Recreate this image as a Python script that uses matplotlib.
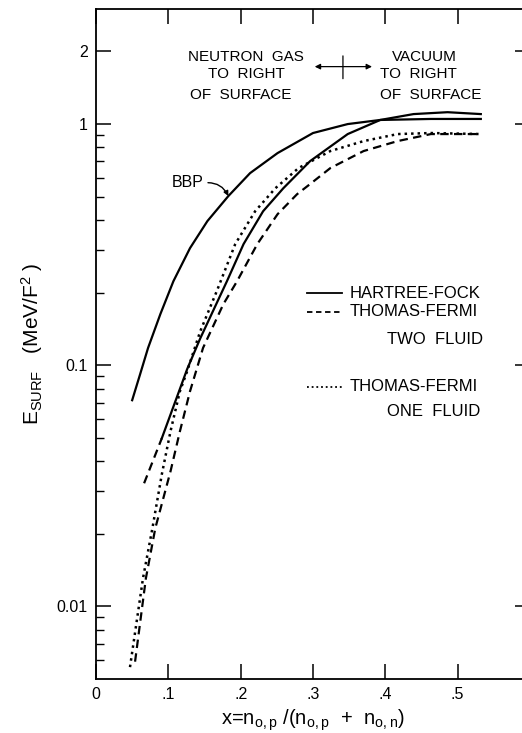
import matplotlib
matplotlib.use("Agg")
import matplotlib.pyplot as plt
from matplotlib.lines import Line2D

plt.rcParams['font.family'] = ['Liberation Sans', 'DejaVu Sans']
plt.rcParams['mathtext.fontset'] = 'custom'
plt.rcParams['mathtext.rm'] = 'Liberation Sans'
plt.rcParams['mathtext.default'] = 'regular'

# Hartree-Fock (solid), with short dashed extension at low x
hf_x = [0.091, 0.126, 0.144, 0.181, 0.204, 0.231, 0.259, 0.296, 0.348, 0.393, 0.439, 0.486, 0.532]
hf_y = [0.0498, 0.0963, 0.129, 0.223, 0.318, 0.435, 0.542, 0.702, 0.909, 1.04, 1.10, 1.12, 1.10]
hf_ext_x = [0.0665, 0.091]
hf_ext_y = [0.0324, 0.0498]

# BBP (solid)
bbp_x = [0.050, 0.061, 0.072, 0.089, 0.107, 0.130, 0.154, 0.183, 0.213, 0.251, 0.300, 0.348, 0.393, 0.463, 0.532]
bbp_y = [0.0716, 0.0918, 0.118, 0.163, 0.223, 0.306, 0.396, 0.503, 0.626, 0.758, 0.918, 1.00, 1.04, 1.05, 1.05]

# Thomas-Fermi two fluid (dashed)
tf2_x = [0.054, 0.069, 0.082, 0.103, 0.116, 0.130, 0.148, 0.176, 0.195, 0.223, 0.251, 0.278, 0.296, 0.324, 0.370, 0.417, 0.463, 0.532]
tf2_y = [0.0059, 0.0131, 0.0211, 0.0363, 0.0532, 0.078, 0.118, 0.179, 0.223, 0.318, 0.423, 0.512, 0.564, 0.657, 0.773, 0.85, 0.909, 0.909]

# Thomas-Fermi one fluid (dotted)
tf1_x = [0.047, 0.065, 0.078, 0.091, 0.103, 0.116, 0.126, 0.144, 0.167, 0.1925, 0.220, 0.248, 0.280, 0.324, 0.370, 0.417, 0.463, 0.532]
tf1_y = [0.0056, 0.0131, 0.0211, 0.0353, 0.0532, 0.078, 0.0944, 0.138, 0.203, 0.318, 0.435, 0.542, 0.657, 0.773, 0.85, 0.909, 0.918, 0.909]

x_ticks = [0, 0.1, 0.2, 0.3, 0.4, 0.5]
x_labels = ["0", ".1", ".2", ".3", ".4", ".5"]
y_ticks = [0.01, 0.1, 1, 2]
y_labels = ["0.01", "0.1", "1", "2"]
y_minor = [0.006, 0.007, 0.008, 0.009,
           0.02, 0.03, 0.04, 0.05, 0.06, 0.07, 0.08, 0.09,
           0.2, 0.3, 0.4, 0.5, 0.6, 0.7, 0.8, 0.9]

fig = plt.figure(figsize=(5.22, 7.33), dpi=100)
ax = fig.add_axes([96/522, 54/733, 434/522, 670/733])

lw = 1.6
ax.plot(bbp_x, bbp_y, color="black", lw=lw)
ax.plot(hf_x, hf_y, color="black", lw=lw)
ax.plot(hf_ext_x, hf_ext_y, color="black", lw=lw, dashes=(3.8, 2.4))
ax.plot(tf2_x, tf2_y, color="black", lw=lw, dashes=(3.8, 2.4))
ax.plot(tf1_x, tf1_y, color="black", lw=1.8, dashes=(1, 1.6))

ax.set_yscale("log")
ax.set_xlim(0, 0.6)
ax.set_ylim(0.005, 3)

ax.set_xticks(x_ticks)
ax.set_xticklabels(x_labels)
ax.set_yticks(y_ticks)
ax.set_yticklabels(y_labels)
ax.set_yticks(y_minor, minor=True)
ax.yaxis.set_minor_formatter(matplotlib.ticker.NullFormatter())

ax.tick_params(which="major", direction="in", length=11, width=1.1,
               top=True, right=True, labelsize=11.5, pad=6)
ax.tick_params(axis="y", which="minor", direction="in", length=6, width=1.0,
               left=True, right=False)
for s in ax.spines.values():
    s.set_linewidth(1.3)
ax.spines["right"].set_visible(False)

ax.set_xlabel(r"x=n$_{o,p}$ /(n$_{o,p}$  +  n$_{o,n}$)", fontsize=14.5, labelpad=4)
ax.set_ylabel(r"E$_{SURF}$   (MeV/F$^2$ )", fontsize=15, labelpad=8)

# Region notes at top
tf = dict(transform=ax.transAxes, fontsize=11, va="center")
ax.text(0.346, 0.928, "NEUTRON  GAS", ha="center", **tf)
ax.text(0.346, 0.903, "TO  RIGHT", ha="center", **tf)
ax.text(0.333, 0.872, "OF  SURFACE", ha="center", **tf)
ax.text(0.756, 0.928, "VACUUM", ha="center", **tf)
ax.text(0.654, 0.903, "TO  RIGHT", ha="left", **tf)
ax.text(0.654, 0.872, "OF  SURFACE", ha="left", **tf)
ax.annotate("", xy=(0.504, 0.914), xytext=(0.636, 0.914), xycoords="axes fraction",
            arrowprops=dict(arrowstyle="<|-|>", color="black", lw=0.9,
                            mutation_scale=8, shrinkA=0, shrinkB=0))
ax.annotate("", xy=(0.569, 0.896), xytext=(0.569, 0.930), xycoords="axes fraction",
            arrowprops=dict(arrowstyle="-", color="black", lw=0.9,
                            shrinkA=0, shrinkB=0))

# BBP label
ax.annotate("BBP", xy=(0.183, 0.503), xytext=(0.127, 0.57), fontsize=11.5,
            ha="center", va="center",
            arrowprops=dict(arrowstyle="-|>", color="black", lw=1.0,
                            mutation_scale=7, shrinkA=1, shrinkB=0,
                            relpos=(1.0, 0.5),
                            connectionstyle="arc3,rad=-0.35"))

# hand-drawn key
key = [("HARTREE-FOCK", 0.576, {}),
       ("THOMAS-FERMI", 0.548, {"dashes": (3.0, 2.0)}),
       ("THOMAS-FERMI", 0.436, {"dashes": (1, 1.6)})]
for label, yk, style in key:
    ax.add_line(Line2D([0.486, 0.567], [yk, yk], transform=ax.transAxes,
                       color="black", lw=1.3, **style))
    ax.text(0.585, yk, label, transform=ax.transAxes, fontsize=12, va="center")
ax.text(0.670, 0.506, "TWO  FLUID", transform=ax.transAxes, fontsize=12, va="center")
ax.text(0.670, 0.399, "ONE  FLUID", transform=ax.transAxes, fontsize=12, va="center")

fig.savefig("out.png", dpi=100)
